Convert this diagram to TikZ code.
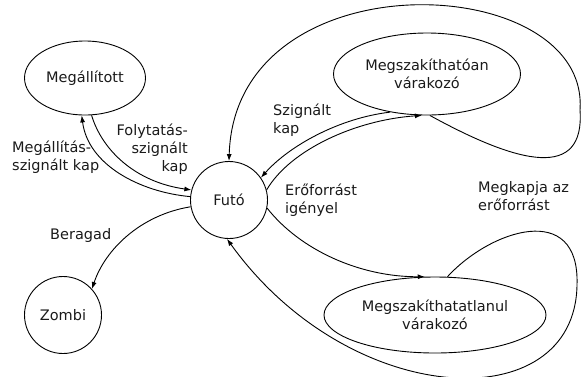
\documentclass[tikz,border=0pt]{standalone}
\usepackage{fontspec}
\setmainfont{DejaVu Sans}
\usepackage{xcolor}
\usepackage{tikz}
\usetikzlibrary{arrows.meta,shapes.geometric}
\definecolor{ink}{HTML}{000000}
\definecolor{txt}{HTML}{1a1a1a}
\tikzset{st/.style={draw=ink, ellipse, line width=0.9pt, align=center, inner sep=0pt, text=txt},
         crc/.style={draw=ink, circle, line width=0.9pt, minimum size=77pt, inner sep=0pt, text=txt},
         lbl/.style={inner sep=0pt, text=txt},
         arr/.style={-{Latex[length=7pt,width=5pt]}, line width=0.9pt, ink}}
\begin{document}
\begin{tikzpicture}[x=1pt, y=-1pt, font=\fontsize{14.5}{18}\selectfont]
\useasboundingbox (0,0) rectangle (588,376);
\node[st, minimum width=121pt, minimum height=74pt] (stp) at (85,78) {Megállított};
\node[crc] (run) at (229,200) {Futó};
\node[crc] (zmb) at (63,315) {Zombi};
\node[st, minimum width=187pt, minimum height=82pt] (iw) at (427,74) {Megszakíthatóan\\várakozó};
\node[st, minimum width=222pt, minimum height=76pt] (uw) at (435,315) {Megszakíthatatlanul\\várakozó};
% transitions
\draw[arr] (stp.-80) .. controls (102,150) and (135,182) .. (run.165);
\draw[arr] (run.175) .. controls (140,192) and (88,165) .. (stp.-95);
\draw[arr] (iw.-134) .. controls (340,118) and (290,145) .. (run.35);
\draw[arr] (run.15) .. controls (290,150) and (355,120) .. (iw.-97);
\draw[arr] (run.-12) .. controls (300,250) and (360,277) .. (uw.105);
\draw[arr] (run.-170) .. controls (140,215) and (105,250) .. (zmb.42);
\draw[arr] (iw.-86) .. controls (520,165) and (585,180) .. (580,110) .. controls (590,-30) and (235,-45) .. (run.90);
\draw[arr] (uw.72) .. controls (490,230) and (580,200) .. (577,285) .. controls (575,420) and (350,410) .. (run.-93);
% labels
\node[lbl, anchor=west, align=left] (l1) at (12,157) {Megállítás-\\szignált kap};
\node[lbl, anchor=east, align=right] (l2) at (188,149) {Folytatás-\\szignált\\kap};
\node[lbl, anchor=west, align=left] (l3) at (273,120) {Szignált\\kap};
\node[lbl, anchor=west, align=left] (l4) at (285,200) {Erőforrást\\igényel};
\node[lbl, anchor=west, align=left] (l5) at (478,196) {Megkapja az\\erőforrást};
\node[lbl, anchor=west] (l6) at (50,235) {Beragad};
\end{tikzpicture}
\end{document}
